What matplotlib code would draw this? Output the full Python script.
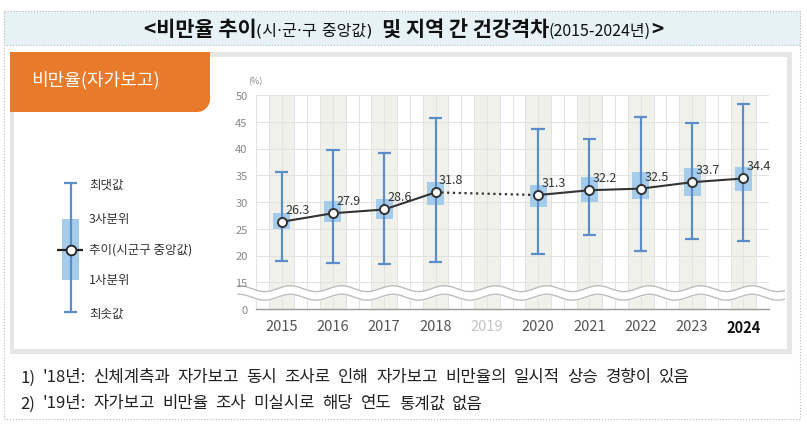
import numpy as np
import matplotlib
matplotlib.use('Agg')
import matplotlib.pyplot as plt
from matplotlib.patches import Rectangle, Polygon

plt.rcParams['font.family'] = ['Noto Sans CJK KR', 'DejaVu Sans']

# 시군구 비만율(자가보고) 분포 - 그림에서 읽은 값
years = ['2015', '2016', '2017', '2018', '2019', '2020', '2021', '2022', '2023', '2024']
median = [26.3, 27.9, 28.6, 31.8, np.nan, 31.3, 32.2, 32.5, 33.7, 34.4]
q1 = [24.9, 26.3, 26.8, 29.4, np.nan, 29.1, 30.0, 30.6, 31.2, 32.0]
q3 = [28.0, 30.1, 30.6, 33.8, np.nan, 33.2, 34.7, 35.6, 36.3, 36.6]
vmin = [19.0, 18.6, 18.4, 18.8, np.nan, 20.2, 23.9, 20.8, 23.1, 22.7]
vmax = [35.7, 39.8, 39.1, 45.7, np.nan, 43.7, 41.7, 45.9, 44.8, 48.3]
yticks_val = [0, 15, 20, 25, 30, 35, 40, 45, 50]

notes = ["1) '18년: 신체계측과 자가보고 동시 조사로 인해 자가보고 비만율의 일시적 상승 경향이 있음",
         "2) '19년: 자가보고 비만율 조사 미실시로 해당 연도 통계값 없음"]

W, H = 807, 431
C_BOX = '#A5CDEB'
C_WHIS = '#5B8DC8'
C_BAND = '#F1F1EB'
C_GRID = '#E2E2E2'

fig = plt.figure(figsize=(W / 100, H / 100), dpi=100)
fig.patch.set_facecolor('white')
renderer = fig.canvas.get_renderer()

# 배경 장식 (픽셀 좌표)
bg = fig.add_axes([0, 0, 1, 1])
bg.set_xlim(0, W)
bg.set_ylim(H, 0)
bg.axis('off')

bg.add_patch(Rectangle((4, 12), 796, 408, fill=False, ec='#BBBBBB', lw=0.8, ls=':'))
bg.add_patch(Rectangle((4, 12), 796, 34, fc='#E6F2F5', ec='#BBBBBB', lw=0.8, ls=':'))
bg.add_patch(Rectangle((10, 53), 782, 302, fc='#E6E6E6', ec='none'))
bg.add_patch(Rectangle((14, 58), 773, 292, fc='white', ec='none'))

# 주황 탭 (오른쪽 아래 둥근 모서리)
r = 13
th = np.linspace(0, np.pi / 2, 20)
arc = np.column_stack([210 - r + r * np.cos(th), 113 - r + r * np.sin(th)])
tab = np.vstack([[10, 53], [210, 53], arc, [10, 113]])
bg.add_patch(Polygon(tab, closed=True, fc='#E87A2A', ec='none'))
bg.text(31, 80, '비만율(자가보고)', color='white', fontsize=13, va='center', ha='left')

# 제목 (크기 혼합)
runs = [('<비만율 추이', 15, 'bold', 0, None),
        ('(시·군·구 중앙값)', 11.5, 'normal', 0, ['DejaVu Sans', 'Noto Sans CJK KR']),
        ('및 지역 간 건강격차', 15, 'bold', 9, None),
        ('(2015-2024년)', 11.5, 'normal', 0, None),
        ('>', 15, 'bold', 0, None)]
objs = []
for s, fs, fw, gap, fam in runs:
    kw = {'family': fam} if fam else {}
    t = bg.text(0, 36, s, fontsize=fs, fontweight=fw, va='baseline', ha='left',
                color='#111111', **kw)
    objs.append((t, gap))
widths = [t.get_window_extent(renderer).width for t, g in objs]
total = sum(widths) + sum(g for t, g in objs)
x = W / 2 - total / 2
for (t, g), w in zip(objs, widths):
    x += g
    t.set_x(x)
    x += w

# 범례
bg.add_patch(Rectangle((62, 220), 17, 61, fc=C_BOX, ec='none'))
bg.vlines(70.5, 184, 313, color=C_WHIS, lw=1.6)
bg.hlines([184, 313], 64, 77, color=C_WHIS, lw=1.6)
bg.hlines(250.5, 57, 83, color='#222222', lw=1.6)
bg.plot([70.5], [250.5], 'o', ms=7, mfc='white', mec='#222222', mew=1.3)
leg_lab = ['최댓값', '3사분위', '추이(시군구 중앙값)', '1사분위', '최솟값']
leg_y = [185, 220, 250, 281, 314]
for s, yy in zip(leg_lab, leg_y):
    bg.text(89, yy, s, fontsize=9, color='#333333', va='center', ha='left')


# 주석: 단어 간격을 조정해 원본 폭에 맞춤
def spaced_line(s, x0, x1, y, fs):
    words = s.split(' ')
    ts = [bg.text(0, y, w, fontsize=fs, color='#222222', va='center', ha='left') for w in words]
    ws = [t.get_window_extent(renderer).width for t in ts]
    gap = (x1 - x0 - sum(ws)) / (len(ws) - 1)
    xx = x0
    for t, w in zip(ts, ws):
        t.set_x(xx)
        xx += w + gap


spaced_line(notes[0], 20, 690, 378, 12)
spaced_line(notes[1], 20, 483, 404, 12)

# 본 차트
ax = fig.add_axes([256 / W, 1 - 310 / H, 513 / W, 214 / H])
ax.set_facecolor('none')
n = len(years)
xs = np.arange(n)
ax.set_xlim(-0.5, n - 0.5)
ax.set_ylim(10, 50)

ax.bar(xs, 40, bottom=10, width=0.5, color=C_BAND, zorder=0)
ax.vlines(np.arange(-0.5, n - 0.49, 0.25), 10, 50, color=C_GRID, lw=0.7, zorder=0.5)
ax.hlines(yticks_val[1:], -0.5, n - 0.5, color=C_GRID, lw=0.7, zorder=0.5)

# 물결 (축 생략 표시)
wx = np.linspace(-0.85, n - 0.2, 600)
w1 = 13.8 + 0.55 * np.sin(2 * np.pi * (wx + 0.08))
w2 = w1 - 1.6
ax.fill_between(wx, w2, w1, color='white', zorder=1, clip_on=False)
ax.plot(wx, w1, color='#BDBDBD', lw=1.0, zorder=1.1, clip_on=False)
ax.plot(wx, w2, color='#BDBDBD', lw=1.0, zorder=1.1, clip_on=False)

med = np.array(median)
ax.bar(xs, np.array(q3) - np.array(q1), bottom=q1, width=0.33, color=C_BOX, zorder=2)
ax.vlines(xs, vmin, vmax, color=C_WHIS, lw=1.6, zorder=3)
ax.hlines(vmin, xs - 0.13, xs + 0.13, color=C_WHIS, lw=1.6, zorder=3)
ax.hlines(vmax, xs - 0.13, xs + 0.13, color=C_WHIS, lw=1.6, zorder=3)

ax.plot(xs, med, color='#333333', lw=1.5, zorder=4)
ax.plot([xs[3], xs[5]], [med[3], med[5]], color='#333333', lw=1.6, ls=(0, (1, 1.6)), zorder=4)
ax.plot(xs, med, 'o', ms=6.5, mfc='white', mec='#333333', mew=1.4, zorder=5)
for i, v in enumerate(median):
    if np.isnan(v):
        continue
    ax.annotate(f'{v:.1f}', (xs[i], v), xytext=(2.5, 9), textcoords='offset points',
                ha='left', va='center', fontsize=9, color='#333333', zorder=6)

ax.set_yticks([10] + yticks_val[1:])
ax.set_yticklabels([str(v) for v in yticks_val], fontsize=8, color='#888888')
ax.set_xticks(xs)
ax.set_xticklabels(years, fontsize=10.5, color='#555555')
lbls = ax.get_xticklabels()
lbls[4].set_color('#C4C4C4')
lbls[-1].set_color('#111111')
lbls[-1].set_fontweight('bold')
ax.tick_params(axis='both', length=0)
ax.tick_params(axis='y', pad=6)
ax.tick_params(axis='x', pad=7)
for s in ['left', 'right', 'top']:
    ax.spines[s].set_visible(False)
ax.spines['bottom'].set_color('#9A9A9A')
ax.spines['bottom'].set_linewidth(1)
ax.text(-0.38, 51.8, '(%)', transform=ax.transData, fontsize=6.5, color='#888888',
        ha='right', va='bottom')

fig.savefig('out.png', dpi=100)
